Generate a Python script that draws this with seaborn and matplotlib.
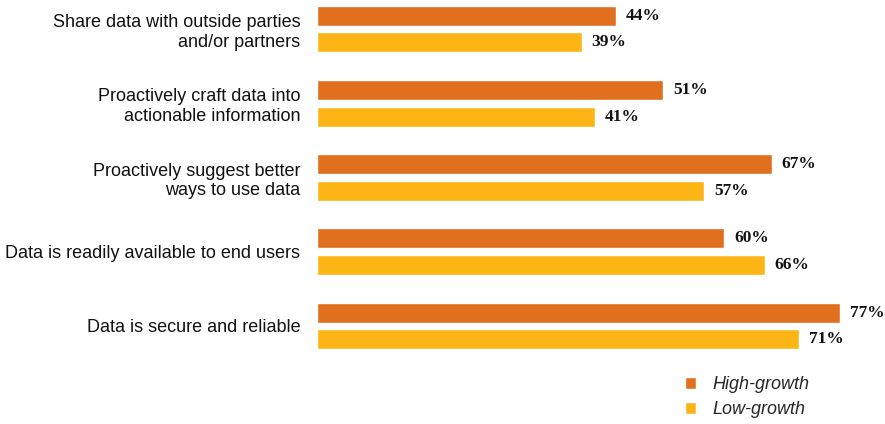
import pandas as pd
import seaborn as sns
import matplotlib.pyplot as plt
from matplotlib.patches import Patch

categories = ['Share data with outside parties\nand/or partners',
              'Proactively craft data into\nactionable information',
              'Proactively suggest better\nways to use data',
              'Data is readily available to end users',
              'Data is secure and reliable']
high_growth = [44, 51, 67, 60, 77]
low_growth = [39, 41, 57, 66, 71]
series = ['High-growth', 'Low-growth']
colors = ['#E0701E', '#FDB515']

df = pd.DataFrame({
    'item': categories * 2,
    'value': high_growth + low_growth,
    'group': [series[0]] * 5 + [series[1]] * 5,
})

sns.set_style('white')
plt.rcParams['font.family'] = ['Liberation Sans', 'DejaVu Sans']

fig = plt.figure(figsize=(8.85, 4.24), dpi=100)
ax = fig.add_axes([317 / 885, 0, 568 / 885, 1])

sns.barplot(data=df, y='item', x='value', hue='group', order=categories,
            hue_order=series, palette=colors, saturation=1, orient='h',
            width=0.716, gap=0.245, legend=False, ax=ax)

# 數值標籤
for cont in ax.containers:
    ax.bar_label(cont, labels=[f'{int(v)}%' for v in cont.datavalues], padding=7,
                 fontsize=12.5, fontweight='bold', family='Liberation Serif',
                 color='#111111')

ax.set_xlim(0, 568 / 6.79)
ax.set_ylim(4 + 98 / 74.25, -29 / 74.25)
ax.set_xlabel('')
ax.set_ylabel('')
ax.set_xticks([])
ax.tick_params(axis='y', length=0, pad=12, labelsize=13, labelcolor='#111111')
for lab in ax.get_yticklabels():
    lab.set_horizontalalignment('right')
sns.despine(ax=ax, left=True, bottom=True)

handles = [Patch(facecolor=c, label=s) for c, s in zip(colors, series)]
fig.legend(handles=handles, loc='upper left', bbox_to_anchor=(678 / 885, 1 - 369 / 424),
           frameon=False, prop={'style': 'italic', 'size': 13},
           handlelength=0.6, handleheight=0.6, handletextpad=0.9, labelspacing=0.45,
           borderaxespad=0)

fig.savefig('out.png', dpi=100)
